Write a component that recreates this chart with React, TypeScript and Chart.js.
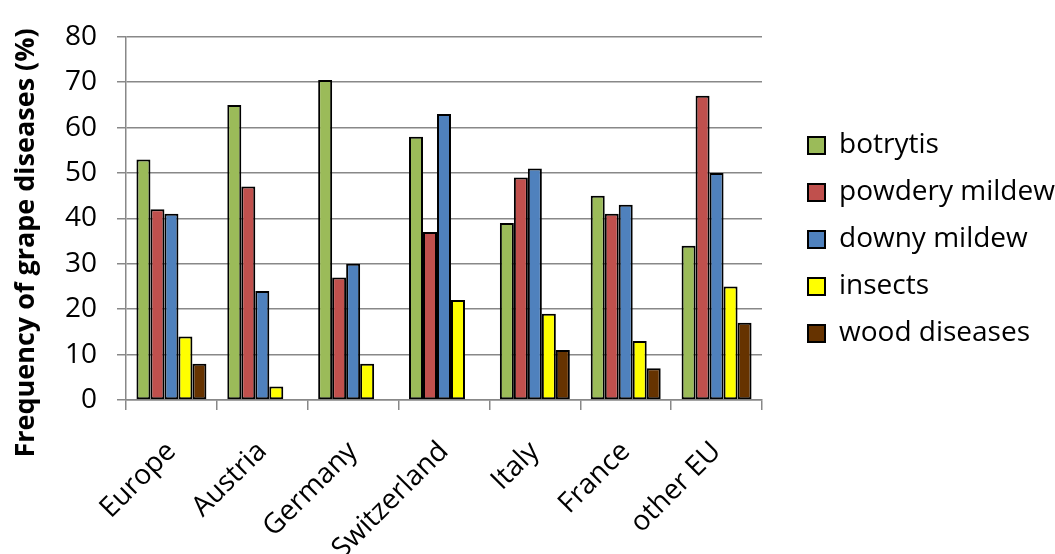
import React, { useEffect, useRef } from 'react';
import { Chart, registerables } from 'chart.js';

Chart.register(...registerables);

const categories = ['Europe', 'Austria', 'Germany', 'Switzerland', 'Italy', 'France', 'other EU'];
const seriesNames = ['botrytis', 'powdery mildew', 'downy mildew', 'insects', 'wood diseases'];
const botrytis = [53, 65, 70.5, 58, 39, 45, 34];
const powderyMildew = [42, 47, 27, 37, 49, 41, 67];
const downyMildew = [41, 24, 30, 63, 51, 43, 50];
const insects = [14, 3, 8, 22, 19, 13, 25];
const woodDiseases = [8, 0, 0, 0, 11, 7, 17];
const yMin = 0;
const yMax = 80;
const yStep = 10;
const yTitle = 'Frequency of grape diseases (%)';

const colors = ['#9BBB59', '#C0504D', '#4F81BD', '#FFFF00', '#663300'];
const FONT = '"Open Sans", sans-serif';

export default function App() {
  const ref = useRef<HTMLCanvasElement>(null);
  useEffect(() => {
    document.body.style.margin = '0';
    const values = [botrytis, powderyMildew, downyMildew, insects, woodDiseases];
    const chart = new Chart(ref.current!, {
      type: 'bar',
      data: {
        labels: categories,
        datasets: values.map((v, i) => ({
          label: seriesNames[i],
          data: v,
          backgroundColor: colors[i],
          borderColor: '#000',
          borderWidth: (c: any) => (c.raw === 0 ? 0 : 2),
          borderSkipped: false,
          categoryPercentage: 0.77,
          barPercentage: 1,
        })),
      },
      options: {
        animation: false,
        responsive: false,
        devicePixelRatio: 1,
        layout: { padding: { top: 26, left: 0, right: 0, bottom: 0 } },
        plugins: {
          tooltip: { enabled: false },
          legend: {
            position: 'right',
            fullSize: false,
            align: 'center',
            maxWidth: 266,
            title: { display: true, text: ' ', font: { size: 20, family: FONT }, padding: 9 },
            labels: {
              boxWidth: 17,
              boxHeight: 17,
              padding: 19,
              color: '#000',
              font: { size: 28, family: FONT },
              generateLabels: (ch: any) =>
                ch.data.datasets.map((d: any, i: number) => ({
                  text: d.label,
                  fillStyle: d.backgroundColor,
                  strokeStyle: '#000',
                  fontColor: '#000',
                  lineWidth: 2,
                  hidden: false,
                  datasetIndex: i,
                })),
            },
          },
        },
        scales: {
          x: {
            grid: {
              drawOnChartArea: false,
              drawTicks: true,
              tickLength: 10,
              color: '#888',
              lineWidth: 1.5,
              offset: true,
            },
            border: { display: true, color: '#888', width: 1.5 },
            ticks: {
              color: '#000',
              font: { size: 28, family: FONT },
              minRotation: 45,
              maxRotation: 45,
              autoSkip: false,
              padding: 25,
            },
            afterFit: (s: any) => {
              s.height = 154;
            },
          },
          y: {
            min: yMin,
            max: yMax,
            ticks: {
              stepSize: yStep,
              color: '#000',
              font: { size: 28, family: FONT },
              padding: 20,
            },
            grid: { color: '#888', lineWidth: 1.5, tickLength: 9 },
            border: { display: true, color: '#888', width: 1.5 },
            title: {
              display: true,
              text: yTitle + '       ',
              color: '#000',
              font: { size: 27, family: FONT, weight: 'bold' },
              padding: { top: 10, bottom: 0 },
            },
            afterFit: (s: any) => {
              s.width = 126;
            },
          },
          gap: {
            type: 'linear',
            position: 'right',
            display: true,
            grid: { display: false },
            border: { display: false },
            ticks: { display: false },
            afterFit: (s: any) => {
              s.width = 27;
            },
          },
        },
      },
    } as any);
    return () => chart.destroy();
  }, []);
  return <canvas ref={ref} width={1055} height={554} style={{ display: 'block' }} />;
}
